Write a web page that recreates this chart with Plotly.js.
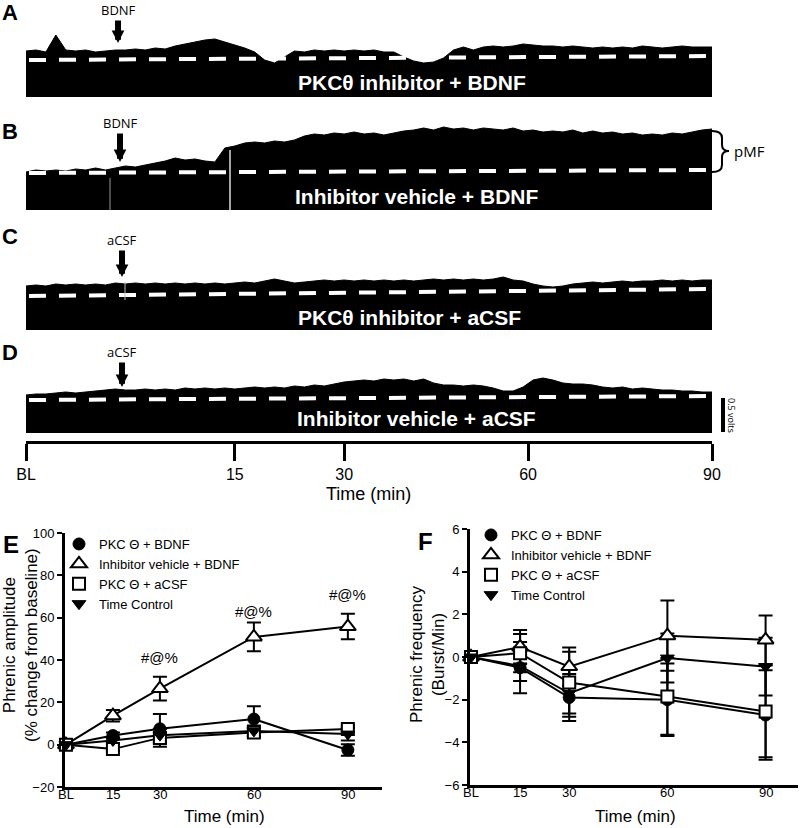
<!DOCTYPE html>
<html><head><meta charset="utf-8">
<script src="https://cdn.plot.ly/plotly-3.0.1.min.js"></script>
<style>html,body{margin:0;padding:0;background:#fff}#chart{width:800px;height:828px}</style>
</head><body><div id="chart"></div>
<script>
// ---------------- DATA ----------------
// Integrated phrenic neurograms (height of the envelope above trace floor, a.u.; 34 a.u. = 0.5 V)
const traceA = [46,47,45,62,47,46,47,45,46,47,47,48,47,49,48,51,53,55,57,58,55,52,49,45,37,34,40,46,45,47,46,47,46,47,46,47,45,45,40,36,34,35,39,47,50,47,50,51,50,51,53,52,51,51,50,51,50,49,50,49,50,49,51,50,49,50,51,50,50,50];
const traceB = [38,40,39,40,39,41,40,42,40,42,44,43,45,47,49,52,50,51,49,48,62,64,67,68,67,69,68,70,74,76,75,77,76,78,76,77,75,77,79,80,82,80,83,81,82,80,82,81,80,82,79,80,78,79,78,80,77,79,77,78,76,77,75,76,75,77,76,78,80,81];
const traceC = [44,45,44,46,45,46,45,46,45,47,46,47,46,47,46,47,46,47,46,47,46,47,48,47,49,51,49,47,48,49,50,49,50,49,50,49,50,49,50,49,50,51,50,51,50,51,50,51,53,50,49,46,44,43,44,46,47,48,47,48,49,48,49,49,50,49,50,49,50,50];
const traceD = [38,39,39,40,41,40,41,42,43,44,43,43,44,43,44,43,45,44,45,44,45,44,45,46,45,46,45,47,46,48,47,49,51,52,53,52,54,53,54,52,54,50,48,48,47,48,47,45,42,42,46,53,55,53,50,49,49,48,46,45,46,44,45,44,43,43,42,42,41,41];
const baselineA = [37, 41];
const baselineB = [37, 40];
const baselineC = [34, 41];
const baselineD = [33, 37];
const traceLabels = ['PKCθ inhibitor + BDNF', 'Inhibitor vehicle + BDNF', 'PKCθ inhibitor + aCSF', 'Inhibitor vehicle + aCSF'];
const injections = ['BDNF', 'BDNF', 'aCSF', 'aCSF'];
const timelineLabels = ['BL', '15', '30', '60', '90'];
const timelineSamples = [0, 21, 32, 50.5, 69];

// Group data (E: amplitude, F: frequency)
const timeMin = [0, 15, 30, 60, 90];
const timeLabels = ['BL', '15', '30', '60', '90'];
const seriesNames = ['PKC Θ + BDNF', 'Inhibitor vehicle + BDNF', 'PKC Θ + aCSF', 'Time Control'];

const ampPkcBdnf      = [0, 4.3, 7.5, 12.1, -2.5];
const ampPkcBdnfErr   = [0, 1.5, 7.0, 6.0, 2.7];
const ampVehBdnf      = [0, 13.7, 26.5, 50.9, 55.8];
const ampVehBdnfErr   = [0, 2.7, 5.6, 6.8, 6.0];
const ampPkcAcsf      = [0, -2.1, 3.2, 5.8, 7.4];
const ampPkcAcsfErr   = [0, 1.0, 4.2, 2.0, 1.5];
const ampTimeCtrl     = [0, 2.0, 4.5, 6.5, 5.0];
const ampTimeCtrlErr  = [0, 1.5, 3.0, 2.5, 3.0];
const ampSigText = ['#@%', '#@%', '#@%'];
const ampSigTime = [30, 60, 90];
const ampSigY    = [41, 63, 71];

const freqPkcBdnf     = [0, -0.5, -1.9, -2.0, -2.72];
const freqPkcBdnfErr  = [0, 1.2, 1.1, 1.7, 2.1];
const freqVehBdnf     = [0, 0.47, -0.45, 1.0, 0.8];
const freqVehBdnfErr  = [0, 0.8, 0.9, 1.65, 1.15];
const freqPkcAcsf     = [0, 0.18, -1.2, -1.85, -2.55];
const freqPkcAcsfErr  = [0, 0.9, 1.45, 1.8, 2.15];
const freqTimeCtrl    = [0, -0.42, -1.7, -0.05, -0.45];
const freqTimeCtrlErr = [0, 0.7, 1.1, 1.15, 1.35];

// ---------------- HELPERS ----------------
const W = 800, H = 828;
const fx = px => px / W;
const fy = py => 1 - py / H;
const ARIAL = 'Liberation Sans, Arial, Helvetica, sans-serif';
const NARROW = 'Liberation Sans Narrow, Arial Narrow, Liberation Sans, sans-serif';
const SANS = 'Open Sans, Noto Sans, sans-serif';

const sampleIdx = traceA.map((_, i) => i);
const lastIdx = sampleIdx.length - 1;

const data = [];
const traces = [traceA, traceB, traceC, traceD];
const baselines = [baselineA, baselineB, baselineC, baselineD];
const axSuffix = ['', '2', '3', '4'];
traces.forEach((tr, k) => {
  data.push({x: sampleIdx, y: tr, xaxis: 'x' + axSuffix[k], yaxis: 'y' + axSuffix[k], mode: 'lines',
    fill: 'tozeroy', fillcolor: '#000', line: {color: '#000', width: 1}, showlegend: false, hoverinfo: 'skip'});
  data.push({x: [0.3, lastIdx], y: baselines[k], xaxis: 'x' + axSuffix[k], yaxis: 'y' + axSuffix[k], mode: 'lines',
    line: {color: '#fff', width: 4, dash: '17px,13px'}, showlegend: false, hoverinfo: 'skip'});
});
// timeline axis carrier (invisible)
data.push({x: timelineSamples, y: timelineSamples.map(() => 0.5), xaxis: 'x5', yaxis: 'y5', mode: 'markers',
  marker: {opacity: 0}, showlegend: false, hoverinfo: 'skip'});

const markerStyles = [
  {symbol: 'circle', size: 12, color: '#000', line: {color: '#000', width: 1}},
  {symbol: 'triangle-up', size: 14, color: '#fff', line: {color: '#000', width: 2}},
  {symbol: 'square', size: 12, color: '#fff', line: {color: '#000', width: 2}},
  {symbol: 'triangle-down', size: 12, color: '#000', line: {color: '#000', width: 1}}
];
function addGroup(vals, errs, xa, ya, leg) {
  vals.forEach((v, k) => {
    data.push({x: timeMin, y: v, xaxis: xa, yaxis: ya, mode: 'lines', line: {color: '#000', width: 2},
      error_y: {type: 'data', array: errs[k], visible: true, color: '#000', thickness: 2, width: 7},
      showlegend: false, cliponaxis: false, hoverinfo: 'skip'});
  });
  vals.forEach((v, k) => {
    data.push({x: timeMin, y: v, xaxis: xa, yaxis: ya, mode: 'markers', marker: markerStyles[k],
      name: seriesNames[k], legend: leg, cliponaxis: false});
  });
}
addGroup([ampPkcBdnf, ampVehBdnf, ampPkcAcsf, ampTimeCtrl],
         [ampPkcBdnfErr, ampVehBdnfErr, ampPkcAcsfErr, ampTimeCtrlErr], 'x6', 'y6', 'legend');
addGroup([freqPkcBdnf, freqVehBdnf, freqPkcAcsf, freqTimeCtrl],
         [freqPkcBdnfErr, freqVehBdnfErr, freqPkcAcsfErr, freqTimeCtrlErr], 'x7', 'y7', 'legend2');

// ---------------- LAYOUT ----------------
const hidden = {visible: false, showgrid: false, zeroline: false, fixedrange: true};
const traceDom = [fx(26), fx(712)];
const layout = {
  width: W, height: H, margin: {l: 0, r: 0, t: 0, b: 0}, autosize: false,
  paper_bgcolor: '#fff', plot_bgcolor: 'rgba(0,0,0,0)', showlegend: true,
  font: {family: ARIAL, color: '#000'},
  xaxis:  Object.assign({domain: traceDom, range: [0, lastIdx], anchor: 'y'}, hidden),
  yaxis:  Object.assign({domain: [fy(97), fy(25)], range: [0, 72], anchor: 'x'}, hidden),
  xaxis2: Object.assign({domain: traceDom, range: [0, lastIdx], anchor: 'y2'}, hidden),
  yaxis2: Object.assign({domain: [fy(210), fy(118)], range: [0, 92], anchor: 'x2'}, hidden),
  xaxis3: Object.assign({domain: traceDom, range: [0, lastIdx], anchor: 'y3'}, hidden),
  yaxis3: Object.assign({domain: [fy(330), fy(265)], range: [0, 65], anchor: 'x3'}, hidden),
  xaxis4: Object.assign({domain: traceDom, range: [0, lastIdx], anchor: 'y4'}, hidden),
  yaxis4: Object.assign({domain: [fy(433), fy(370)], range: [0, 63], anchor: 'x4'}, hidden),
  xaxis5: {domain: traceDom, range: [0, lastIdx], anchor: 'y5', showline: true, linewidth: 3, linecolor: '#000',
    ticks: 'outside', ticklen: 17, tickwidth: 3, tickcolor: '#000', tickvals: timelineSamples, ticktext: timelineLabels,
    tickfont: {family: NARROW, size: 16, color: '#000'}, showgrid: false, zeroline: false, fixedrange: true},
  yaxis5: Object.assign({domain: [fy(441), fy(437)], range: [0, 1], anchor: 'x5'}, hidden),
  xaxis6: {domain: [fx(65), fx(382)], range: [-0.3, 100.9], anchor: 'y6', showline: true, linewidth: 3, linecolor: '#000',
    ticks: '', showticklabels: false, showgrid: false, zeroline: false},
  yaxis6: {domain: [fy(787), fy(533)], range: [-20, 100], anchor: 'x6', showline: true, linewidth: 3, linecolor: '#000',
    ticks: 'outside', ticklen: 5, tickwidth: 2, tickcolor: '#000', tickvals: [-20, 0, 20, 40, 60, 80, 100],
    tickfont: {family: ARIAL, size: 13}, showgrid: false, zeroline: false},
  xaxis7: {domain: [fx(470), fx(798)], range: [-0.3, 99.9], anchor: 'y7', showline: true, linewidth: 3, linecolor: '#000',
    ticks: '', showticklabels: false, showgrid: false, zeroline: false},
  yaxis7: {domain: [fy(785), fy(529)], range: [-6, 6], anchor: 'x7', showline: true, linewidth: 3, linecolor: '#000',
    ticks: 'outside', ticklen: 5, tickwidth: 2, tickcolor: '#000', tickvals: [-6, -4, -2, 0, 2, 4, 6],
    tickfont: {family: ARIAL, size: 13}, showgrid: false, zeroline: false},
  legend:  {x: fx(59), y: fy(529), xanchor: 'left', yanchor: 'top', bgcolor: 'rgba(0,0,0,0)', borderwidth: 0,
    font: {family: ARIAL, size: 13, color: '#000'}, tracegroupgap: 0},
  legend2: {x: fx(471), y: fy(520), xanchor: 'left', yanchor: 'top', bgcolor: 'rgba(0,0,0,0)', borderwidth: 0,
    font: {family: ARIAL, size: 13, color: '#000'}, tracegroupgap: 0},
  annotations: [], shapes: []
};

const A = layout.annotations, S = layout.shapes;
function txt(text, x, y, font, extra) {
  A.push(Object.assign({text: text, x: fx(x), y: fy(y), xref: 'paper', yref: 'paper', showarrow: false,
    xanchor: 'center', yanchor: 'middle', font: font}, extra || {}));
}
// x tick labels for E and F (placed tight under the axis line, as in the reference)
timeMin.forEach((t, k) => {
  A.push({text: timeLabels[k], x: t, xref: 'x6', y: fy(794), yref: 'paper', showarrow: false,
    xanchor: 'center', yanchor: 'middle', font: {family: ARIAL, size: 13, color: '#000'}});
  A.push({text: timeLabels[k], x: t, xref: 'x7', y: fy(792), yref: 'paper', showarrow: false,
    xanchor: 'center', yanchor: 'middle', font: {family: ARIAL, size: 13, color: '#000'}});
});
// panel letters
const bold = (s) => ({family: ARIAL, size: s, color: '#000', weight: 'bold'});
txt('<b>A</b>', 10, 13, bold(22));
txt('<b>B</b>', 10, 131, bold(22));
txt('<b>C</b>', 10, 237, bold(22));
txt('<b>D</b>', 10, 352, bold(22));
txt('<b>E</b>', 11, 544, bold(24));
txt('<b>F</b>', 425, 541, bold(24));
// trace labels
const labelPos = [[412, 82], [416, 197], [409, 318], [416, 418]];
traceLabels.forEach((t, k) => txt('<b>' + t + '</b>', labelPos[k][0], labelPos[k][1], {family: ARIAL, size: 21, color: '#fff'}));
// injection arrows
const arrowPos = [[118, 43, -33], [120, 162, -39], [122, 277, -37], [122, 387, -35]];
injections.forEach((t, k) => {
  A.push({text: t, x: fx(arrowPos[k][0]), y: fy(arrowPos[k][1]), xref: 'paper', yref: 'paper', showarrow: true,
    ax: 0, ay: arrowPos[k][2], arrowhead: 2, arrowwidth: 6, arrowsize: 0.42, arrowcolor: '#000',
    font: {family: SANS, size: 13, color: '#000'}});
});
// pMF brace
const bx = v => fx(v), by = v => fy(v);
S.push({type: 'path', xref: 'paper', yref: 'paper', line: {color: '#000', width: 2},
  path: `M ${bx(712)} ${by(131)} Q ${bx(722)} ${by(131)} ${bx(722)} ${by(138)} L ${bx(722)} ${by(145)} Q ${bx(722)} ${by(151)} ${bx(729)} ${by(151)} Q ${bx(722)} ${by(151)} ${bx(722)} ${by(157)} L ${bx(722)} ${by(165)} Q ${bx(722)} ${by(172)} ${bx(712)} ${by(172)}`});
txt('pMF', 749, 151, {family: SANS, size: 15, color: '#000'});
// white marks in traces
S.push({type: 'line', xref: 'paper', yref: 'paper', x0: fx(110), x1: fx(110), y0: fy(178), y1: fy(210), line: {color: '#999', width: 1}});
S.push({type: 'line', xref: 'paper', yref: 'paper', x0: fx(230), x1: fx(230), y0: fy(150), y1: fy(210), line: {color: '#ddd', width: 1.5}});
S.push({type: 'line', xref: 'paper', yref: 'paper', x0: fx(125), x1: fx(125), y0: fy(282), y1: fy(300), line: {color: '#bbb', width: 1}});
// scale bar
S.push({type: 'rect', xref: 'paper', yref: 'paper', x0: fx(721), x1: fx(725), y0: fy(432), y1: fy(398), fillcolor: '#000', line: {width: 0}});
txt('0.5 volts', 732, 415, {family: SANS, size: 9, color: '#000'}, {textangle: 90});
// timeline title
txt('Time (min)', 368, 494, {family: NARROW, size: 18, color: '#000'});
// E / F axis titles
txt('Phrenic amplitude<br>(% change from baseline)', 20, 645, {family: ARIAL, size: 17, color: '#000'}, {textangle: -90});
txt('Time (min)', 224, 816, {family: ARIAL, size: 17, color: '#000'});
txt('Phrenic frequency<br>(Burst/Min)', 427, 654, {family: ARIAL, size: 17, color: '#000'}, {textangle: -90});
txt('Time (min)', 635, 828, {family: ARIAL, size: 17, color: '#000'}, {yanchor: 'bottom'});
// significance marks
ampSigText.forEach((t, k) => A.push({text: t, x: ampSigTime[k], y: ampSigY[k], xref: 'x6', yref: 'y6', showarrow: false,
  font: {family: ARIAL, size: 15, color: '#000'}}));

Plotly.newPlot('chart', data, layout, {staticPlot: true, displayModeBar: false});
</script>
</body></html>
